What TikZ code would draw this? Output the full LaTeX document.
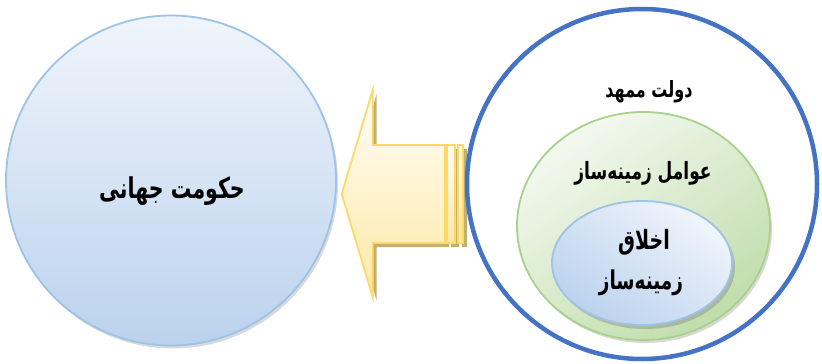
\documentclass[tikz,border=0pt]{standalone}
\usepackage{fontspec}
\newfontfamily\arabicfont[Script=Arabic]{DejaVu Sans}
\TeXXeTstate=1
\usetikzlibrary{shadows,shapes.geometric}
\definecolor{govline}{HTML}{9DC3E6}
\definecolor{govtop}{HTML}{F0F5FB}
\definecolor{govbot}{HTML}{BBD2EE}
\definecolor{stateline}{HTML}{4472C4}
\definecolor{greenline}{HTML}{A9D18E}
\definecolor{greenlight}{HTML}{F4F9F0}
\definecolor{greendark}{HTML}{C0DDAB}
\definecolor{arrowline}{HTML}{FFD966}
\definecolor{arrowtop}{HTML}{FFFEF8}
\definecolor{arrowbot}{HTML}{FFE8A6}
\definecolor{arrowshadow}{HTML}{C4AF72}
\tikzset{
  labeltext/.style={text=black, align=center},
  arrowpart/.style={draw=arrowline, line width=1.8pt, top color=arrowtop, bottom color=arrowbot},
  arrowshade/.style={fill=arrowshadow},
  softshadow/.style={drop shadow={shadow xshift=2pt, shadow yshift=-3pt, opacity=0.3}},
}
% bold Arabic text, stretched upright a little
\newcommand{\artext}[2]{{\arabicfont\bfseries\fontsize{#1}{#1}\selectfont
  \scalebox{1}[1.4]{#2}}}
\begin{document}
\begin{tikzpicture}[x=1pt,y=-1pt]
\useasboundingbox (0,0) rectangle (822,364);

% world government
\node[circle, minimum size=330pt, inner sep=0pt, draw=govline, line width=1.8pt,
      top color=govtop, bottom color=govbot, softshadow] (gov) at (171,180.5) {};
\node[labeltext] (govtxt) at (172,191) {\artext{20.5}{\beginR حکومت جهانی\endR}};

% block arrow with striped tail: shadow first
\begin{scope}[shift={(4,4)}]
  \fill[arrowshade] (341.7,194) -- (372.7,90) -- (372.7,145) -- (445,145) -- (445,243)
    -- (372.7,243) -- (372.7,297) -- cycle;
  \fill[arrowshade] (446.7,145) rectangle (455,243);
  \fill[arrowshade] (458.3,145) rectangle (463.3,243);
\end{scope}
\path[arrowpart] (341.7,194) -- (372.7,90) -- (372.7,145) -- (445,145) -- (445,243)
    -- (372.7,243) -- (372.7,297) -- cycle;
\path[arrowpart] (446.7,145) rectangle (455,243);
\path[arrowpart] (458.3,145) rectangle (463.3,243);

% the prepared state
\node[circle, minimum size=350pt, inner sep=0pt, draw=stateline, line width=4.5pt, fill=white]
  (state) at (642,184) {};
\node[labeltext] (statetxt) at (649,92) {\artext{16}{\beginR دولت ممهد\endR}};

% enabling factors
\node[ellipse, minimum width=253pt, minimum height=228pt, inner sep=0pt, draw=greenline,
      line width=1.8pt, top color=greenlight, bottom color=greendark, shading angle=35,
      softshadow]
  (factors) at (643.5,226) {};
\node[labeltext] (factorstxt) at (643,173) {\artext{17}{\beginR عوامل زمینه^^^^200cساز\endR}};

% enabling ethics
\node[ellipse, minimum width=180pt, minimum height=124pt, inner sep=0pt, draw=govline,
      line width=1.8pt, top color=govtop, bottom color=govbot, shading angle=-35,
      drop shadow={shadow xshift=3pt, shadow yshift=-4pt, opacity=0.4}]
  (ethics) at (642,263) {};
\node[labeltext] (ethicstxt1) at (644,242) {\artext{19}{\beginR اخلاق\endR}};
\node[labeltext] (ethicstxt2) at (641,283) {\artext{18.5}{\beginR زمینه^^^^200cساز\endR}};
\end{tikzpicture}
\end{document}
